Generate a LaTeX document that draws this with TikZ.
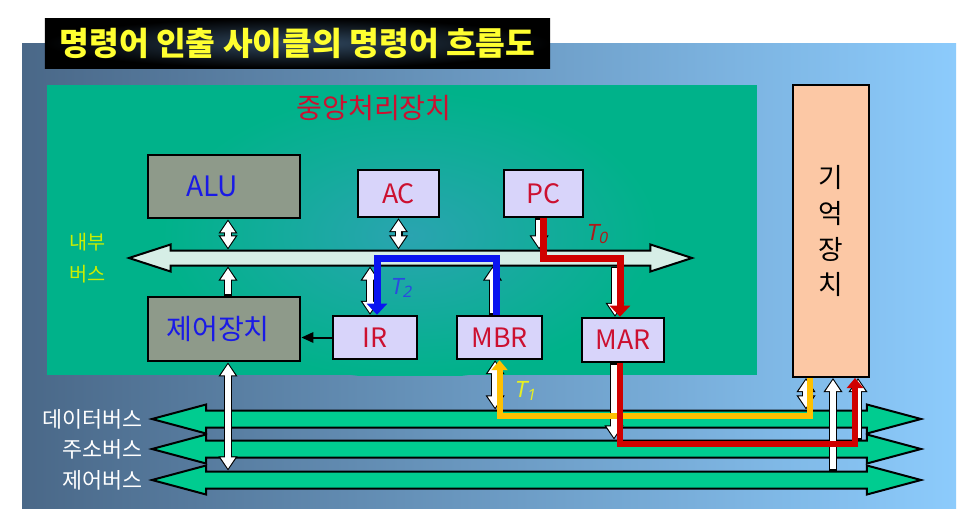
\documentclass[tikz,border=0pt]{standalone}
\usepackage{fontspec}
\setmainfont{Noto Sans CJK KR}
\newfontfamily\tfont{Noto Sans}[FakeSlant=0.2]
\usetikzlibrary{shapes.arrows, arrows.meta, positioning}

\definecolor{panelL}{HTML}{4A6888}
\definecolor{panelR}{HTML}{8CCBFC}
\definecolor{cpugreen}{HTML}{00B28A}
\definecolor{cpuglow}{HTML}{2AA4B0}
\definecolor{unitgray}{HTML}{8E9A8A}
\definecolor{reglav}{HTML}{D8D4FA}
\definecolor{mempeach}{HTML}{FCC8A5}
\definecolor{busgreen}{HTML}{00CC90}
\definecolor{ibusmint}{HTML}{D6EEE6}
\definecolor{regred}{HTML}{CC1030}
\definecolor{unitblue}{HTML}{1A1AE6}
\definecolor{pathred}{HTML}{D00000}
\definecolor{pathblue}{HTML}{0A14F0}
\definecolor{pathyellow}{HTML}{FFC000}
\definecolor{titleyellow}{HTML}{FFFF30}
\definecolor{innerlabel}{HTML}{CCEE00}

\begin{document}
\begin{tikzpicture}[
    % one unit is one pixel of the slide
    x=0.25mm, y=-0.25mm,
    % Style for the gray units (ALU, control unit)
    unit/.style={
        rectangle,
        draw=black,
        line width=0.7mm,
        fill=unitgray,
        minimum width=38mm,
        minimum height=16mm,
        text=unitblue,
        font=\fontsize{20}{22}\selectfont
    },
    % Style for the registers
    reg/.style={
        rectangle,
        draw=black,
        line width=0.6mm,
        fill=reglav,
        minimum width=21mm,
        minimum height=11mm,
        text=regred,
        font=\fontsize{19}{21}\selectfont
    },
    % Style for the fat system buses
    bus/.style={
        double arrow,
        draw=black,
        line width=0.5mm,
        fill=busgreen,
        inner xsep=0pt,
        inner ysep=1.875mm,
        double arrow head extend=1.5mm,
        minimum width=6.75mm,
        minimum height=192.25mm,
        double arrow tip angle=30
    },
    % Style for the bus names
    bus_label/.style={
        text=white,
        inner sep=0pt,
        font=\fontsize{15.5}{17}\selectfont
    },
    % Style for the white arrows with a black rim
    wire/.style={
        draw=white,
        line width=1.4mm,
        shorten >=0.45mm, shorten <=0.45mm,
        preaction={draw=black, line width=2mm, shorten >=0pt, shorten <=0pt}
    },
    >={Triangle[length=1.17mm 1.17, width=1.17mm 1.67]},
    % Style for the thick coloured transfer paths
    move/.style={
        line width=1.75mm,
        line join=miter,
        -{Triangle[length=2.8mm, width=5mm]}
    },
    step_label/.style={
        inner sep=0pt,
        font=\tfont\fontsize{16}{18}\selectfont
    }
]

\useasboundingbox (0,0) rectangle (964,528);
\fill[white] (0,0) rectangle (964,528);

% 0. Slide background and title
\shade[left color=panelL, right color=panelR] (22,43) rectangle (956,508);
\node[inner color={rgb,255:red,48;green,72;blue,96}, outer color=black,
      minimum width=126.25mm, minimum height=12.5mm,
      text=titleyellow, font=\bfseries\fontsize{23}{25}\selectfont]
      (title) at (297.5,43) {명령어 인출 사이클의 명령어 흐름도};

% 1. The CPU area with its glow
\node[fill=cpugreen, minimum width=177.5mm, minimum height=72.5mm, inner sep=0pt]
      (cpu) at (402,230) {};
\begin{scope}
    \clip (cpu.south west) rectangle (cpu.north east);
    \shade[inner color=cpuglow, outer color=cpugreen]
        (410,235) ellipse [x radius=62mm, y radius=36mm];
\end{scope}
\node[text=regred, font=\fontsize{20}{22}\selectfont] (cpu_name) at (374,108) {중앙처리장치};

% 2. Units, registers and memory
\node[unit, minimum height=15.75mm] (alu) at (224,186.5) {ALU\hspace*{6mm}};
\node[unit] (cu) at (224,329) {제어장치\hspace*{3mm}};
\node[reg, minimum width=20.25mm, minimum height=11.75mm] (ac) at (398.5,193.5) {AC};
\node[reg, minimum width=19.75mm, minimum height=11.75mm] (pc) at (543.5,193.5) {PC};
\node[reg, minimum height=10.75mm] (ir) at (375,337.5) {IR};
\node[reg, minimum width=21.25mm, minimum height=10.75mm] (mbr) at (499.5,337.5) {MBR};
\node[reg, minimum width=20.5mm] (mar) at (623,340) {MAR};
\node[rectangle, draw=black, line width=0.5mm, fill=mempeach,
      minimum width=19mm, minimum height=73mm, align=center,
      font=\fontsize{19}{25.6}\selectfont] (mem) at (831,231) {기\\억\\장\\치};

% 3. Internal bus and system buses
\node[bus, fill=ibusmint, inner ysep=1.625mm, minimum width=6.25mm,
      minimum height=140.75mm, double arrow tip angle=36] (ibus) at (410.5,258) {};
\node[text=innerlabel, align=center, inner sep=0pt,
      font=\fontsize{14}{23}\selectfont, left=5mm of ibus.west] (ibus_name) {내부\\버스};

\node[bus] (dbus) at (536.5,419) {};
\node[bus] (abus) at (536.5,449) {};
\node[bus] (cbus) at (536.5,480) {};
\node[bus_label, left=1.25mm of dbus.west] (dbus_name) {데이터버스};
\node[bus_label, left=1.25mm of abus.west] (abus_name) {주소버스};
\node[bus_label, left=1.25mm of cbus.west] (cbus_name) {제어버스};

% 4. White connections
\draw[wire, <->] ([xshift=1mm]alu.south) -- ([xshift=1mm]alu.south |- ibus.north);
\draw[wire, <->] (ac.south) -- (ac.south |- ibus.north);
\draw[wire, ->] ([xshift=1mm]cu.north) -- ([xshift=1mm]cu.north |- ibus.south);
\draw[wire, <->] ([xshift=1mm]cu.south) -- ([xshift=1mm]cu.south |- cbus.north);
\draw[wire, <->] ([xshift=-1.25mm]ir.north) -- ([xshift=-1.25mm]ir.north |- ibus.south);
\draw[wire, ->] ([xshift=-1.75mm]mbr.north) -- ([xshift=-1.75mm]mbr.north |- ibus.south);
\draw[wire, ->] ([xshift=-1.1mm]pc.south) -- ([xshift=-1.1mm]pc.south |- ibus.north);
\draw[wire, ->] ([xshift=-2mm]mar.north |- ibus.south) -- ([xshift=-2mm]mar.north);
\draw[wire, <->] ([xshift=-1.1mm]mbr.south) -- ([xshift=-1.1mm]mbr.south |- dbus.north);
\draw[wire, ->] ([xshift=-2.25mm]mar.south) -- ([xshift=-2.25mm]mar.south |- abus.north);
\draw[wire, <->] ([xshift=-6.25mm]mem.south) -- ([xshift=-6.25mm]mem.south |- dbus.north);
\draw[wire, ->] ([xshift=0.5mm]mem.south |- cbus.north) -- ([xshift=0.5mm]mem.south);
\draw[wire, ->] ([xshift=6.75mm]mem.south |- abus.north) -- ([xshift=6.75mm]mem.south);
\draw[-{Triangle[length=3mm, width=2.6mm]}, line width=0.5mm] (ir.west) -- (ir.west -| cu.east);

% 5. Instruction fetch steps T0, T1, T2
\draw[move, pathred] (pc.south) |- ([xshift=-0.75mm]mar.north |- ibus.center)
    -- ([xshift=-0.75mm]mar.north);
\node[step_label, text={rgb,255:red,176;green,24;blue,24}] (t0) at (597,234) {T\textsubscript{0}};

\draw[move, pathyellow, line width=1.5mm, -{Triangle[length=2.5mm, width=4mm]}]
    ([xshift=-5.25mm]mem.south) |- ([yshift=0.75mm]mbr.south |- dbus.center) -- (mbr.south);
\node[step_label, text={rgb,255:red,232;green,240;blue,32}] (t1) at (525,391) {T\textsubscript{1}};

\draw[move, pathblue] ([xshift=-0.875mm]mbr.north) |- ([xshift=0.5mm]ir.north |- ibus.center)
    -- ([xshift=0.5mm]ir.north);
\node[step_label, text={rgb,255:red,42;green,74;blue,224}] (t2) at (401,288) {T\textsubscript{2}};

\draw[move, pathred, line width=1.5mm, -{Triangle[length=2.5mm, width=4mm]}]
    ([xshift=-0.75mm]mar.south) |- ([xshift=6mm, yshift=1.25mm]mem.south |- abus.center)
    -- ([xshift=6mm]mem.south);

\end{tikzpicture}
\end{document}
